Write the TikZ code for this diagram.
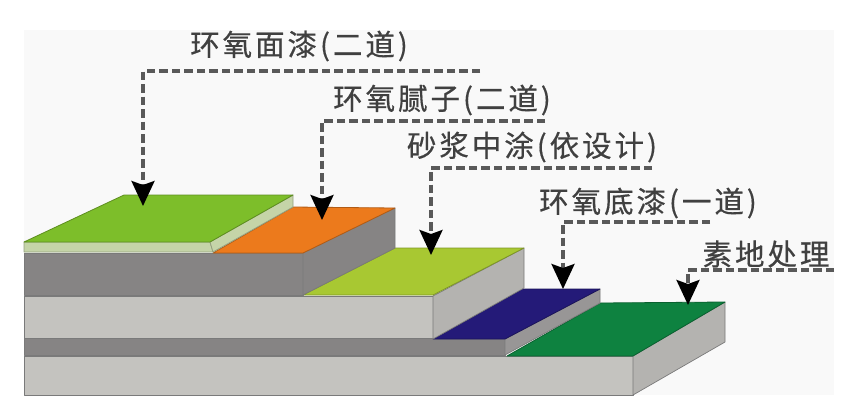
\documentclass[tikz,border=0pt]{standalone}
\usepackage{fontspec}
\newfontfamily\cjk[LetterSpace=10,FakeBold=0.5]{Noto Sans CJK SC}
\usetikzlibrary{arrows.meta}
\definecolor{panel}{HTML}{F9F9F9}
\definecolor{topgreen}{HTML}{7DBE2A}
\definecolor{pale}{HTML}{C5D4A8}
\definecolor{orangeT}{HTML}{EC7A1C}
\definecolor{greyD}{HTML}{868484}
\definecolor{greyL}{HTML}{C4C3BF}
\definecolor{lime}{HTML}{A8C832}
\definecolor{navy}{HTML}{241A78}
\definecolor{deepgreen}{HTML}{0E8240}
\definecolor{edgeD}{HTML}{7A7A7A}
\definecolor{txt}{HTML}{404040}
\tikzset{
  face/.style={fill=#1,draw=edgeD,line width=0.7pt,line join=round},
  tface/.style={fill=#1,draw=#1!75!black,line width=0.8pt,line join=round},
  leader/.style={draw=black!65,line width=3.2pt,dash pattern=on 8.5pt off 4pt,
    -{Stealth[length=25pt,width=23pt,inset=4pt,black]}},
  lab/.style={font=\cjk\fontsize{29.5}{33}\selectfont,text=txt,inner sep=0pt,anchor=center}
}
\begin{document}
\begin{tikzpicture}[x=1pt,y=-1pt]
\useasboundingbox (0,0) rectangle (858,410);
\fill[white] (0,0) rectangle (858,410);
\fill[panel] (24,30) rectangle (834,395);
% bottom slab
\draw[face=greyL] (24,356) -- (633,356) -- (633,395) -- (24,395) -- cycle;
\draw[face=greyL!92!black] (633,356) -- (725,302) -- (725,342) -- (633,395) -- cycle;
\draw[tface=deepgreen] (507,356) -- (600,303) -- (725,302) -- (633,356) -- cycle;
% primer layer
\draw[face=greyD] (24,338) -- (505,338) -- (505,355) -- (24,355) -- cycle;
\draw[face=greyD!85!white] (505,339) -- (600,289) -- (600,303) -- (505,355) -- cycle;
\draw[tface=navy] (433,339) -- (522,289) -- (600,289) -- (505,339) -- cycle;
% mortar layer
\draw[face=greyL] (24,296) -- (433,296) -- (433,338) -- (24,338) -- cycle;
\draw[face=greyL!92!black] (433,296) -- (524,248) -- (524,288) -- (433,339) -- cycle;
\draw[tface=lime] (303,295) -- (395,248) -- (524,248) -- (433,295) -- cycle;
% putty layer
\draw[face=greyD] (24,253) -- (303,253) -- (303,295) -- (24,295) -- cycle;
\draw[face=greyD] (303,253) -- (395,208) -- (395,248) -- (303,295) -- cycle;
\draw[tface=orangeT] (213,253) -- (293,207) -- (395,208) -- (303,253) -- cycle;
% top coat
\draw[tface=pale] (24,242) -- (210,242) -- (213,252) -- (24,252) -- cycle;
\draw[tface=pale] (210,242) -- (293,195) -- (293,207) -- (213,252) -- cycle;
\draw[tface=topgreen] (24,242) -- (124,195) -- (293,195) -- (210,242) -- cycle;
% labels
\node[lab] (l1) at (299,46) {环氧面漆(二道)};
\node[lab] (l2) at (442,100) {环氧腻子(二道)};
\node[lab] (l3) at (532,147) {砂浆中涂(依设计)};
\node[lab] (l4) at (648,203) {环氧底漆(一道)};
\node[lab] (l5) at (766,254) {素地处理};
% leader ends
\coordinate (s1) at (480,71);  \coordinate (t1) at (143,206);
\coordinate (s2) at (545,121); \coordinate (t2) at (322,220);
\coordinate (s3) at (652,168); \coordinate (t3) at (431,255);
\coordinate (s4) at (710,222); \coordinate (t4) at (563,289);
\coordinate (s5) at (834,270); \coordinate (t5) at (688,305);
\draw[leader] (s1) -| (t1);
\draw[leader] (s2) -| (t2);
\draw[leader] (s3) -| (t3);
\draw[leader] (s4) -| (t4);
\draw[leader] (s5) -| (t5);
\end{tikzpicture}
\end{document}
